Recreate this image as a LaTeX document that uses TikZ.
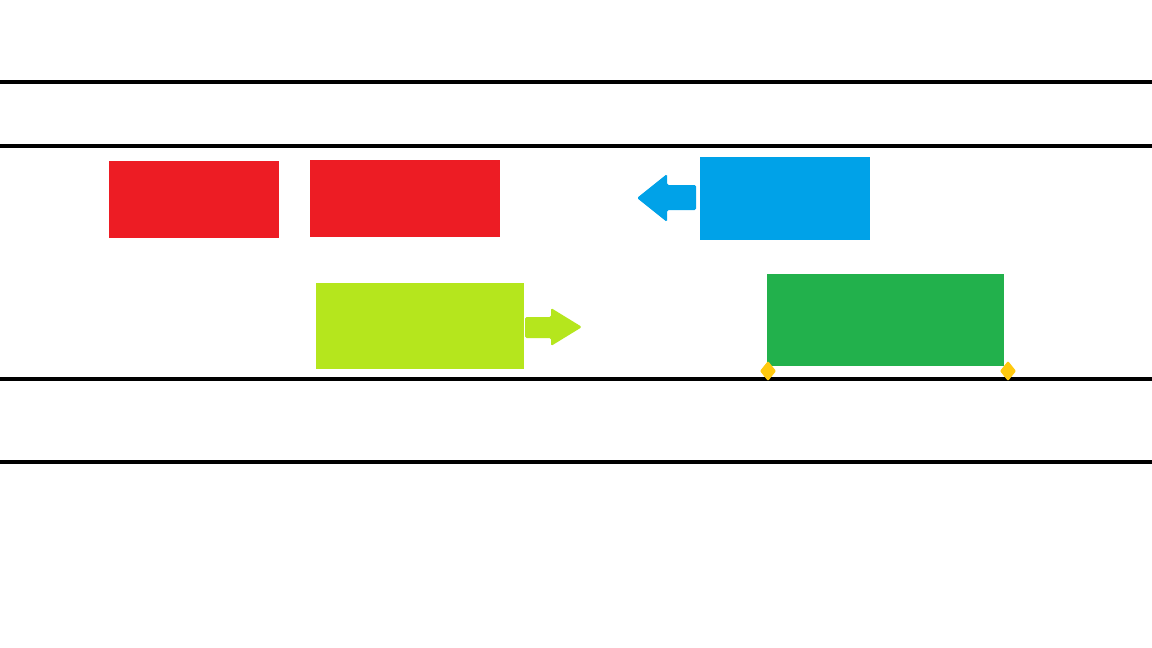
\documentclass[tikz,border=0pt]{standalone}
\definecolor{cred}{HTML}{ED1C24}
\definecolor{cblue}{HTML}{00A2E8}
\definecolor{clime}{HTML}{B5E61D}
\definecolor{cgreen}{HTML}{22B14C}
\definecolor{cyellow}{HTML}{FFC90E}
\tikzset{
  hline/.style={line width=4pt, black},
  box/.style={inner sep=0pt, outer sep=0pt, draw=none},
  handle/.style={fill=cyellow, rounded corners=1pt},
  arr/.style={rounded corners=1.5pt}
}
\begin{document}
\begin{tikzpicture}[x=1pt,y=-1pt]
\useasboundingbox[fill=white] (0,0) rectangle (1152,648);
% horizontal lines
\coordinate (l1a) at (0,82);   \coordinate (l1b) at (1152,82);
\coordinate (l2a) at (0,146);  \coordinate (l2b) at (1152,146);
\coordinate (l3a) at (0,379);  \coordinate (l3b) at (1152,379);
\coordinate (l4a) at (0,462);  \coordinate (l4b) at (1152,462);
\draw[hline] (l1a) -- (l1b);
\draw[hline] (l2a) -- (l2b);
\draw[hline] (l3a) -- (l3b);
\draw[hline] (l4a) -- (l4b);
% boxes
\path[box, fill=cred] (109,161) rectangle (279,238);
\node[box] (r1) at (194,199.5) {};
\path[box, fill=cred] (310,160) rectangle (500,237);
\node[box] (r2) at (405,198.5) {};
\path[box, fill=cblue] (700,157) rectangle (870,240);
\node[box] (b1) at (785,198.5) {};
\path[box, fill=clime] (316,283) rectangle (524,369);
\node[box] (g1) at (420,326) {};
\path[box, fill=cgreen] (767,274) rectangle (1004,366);
\node[box] (g2) at (885.5,320) {};
% blue arrow (pointing left)
\fill[cblue, arr] (696,185) -- (667,185) -- (667,174) -- (637,198) -- (667,222) -- (667,210) -- (696,210) -- cycle;
% lime arrow (pointing right)
\fill[clime, arr] (525,317) -- (551,317) -- (551,308) -- (582,327) -- (551,346) -- (551,338) -- (525,338) -- cycle;
% handles
\fill[handle] (768,361) -- (776,371) -- (768,381) -- (760,371) -- cycle;
\fill[handle] (1008,361) -- (1016,371) -- (1008,381) -- (1000,371) -- cycle;
\end{tikzpicture}
\end{document}
